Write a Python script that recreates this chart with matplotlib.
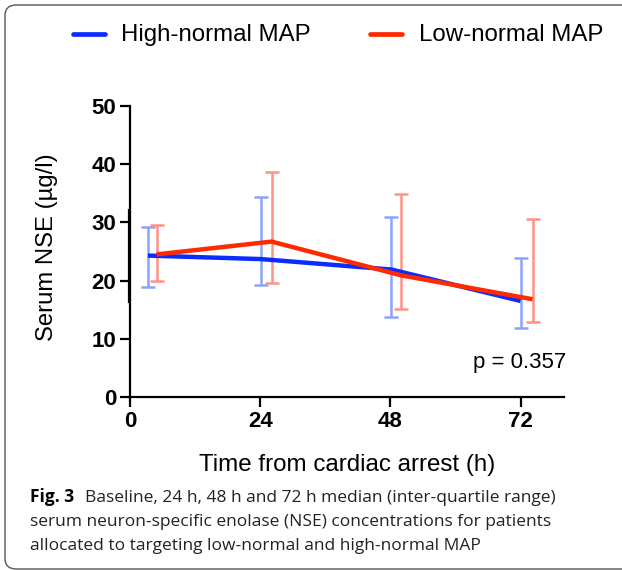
import matplotlib
matplotlib.use("Agg")
import matplotlib.pyplot as plt
from matplotlib.patches import FancyBboxPatch
from matplotlib.lines import Line2D

# ---- data ----
hi_time = [3.3, 24.1, 48.2, 72.0]
hi_median = [24.3, 23.7, 21.9, 16.5]
hi_q1 = [18.9, 19.2, 13.7, 11.9]
hi_q3 = [29.2, 34.3, 30.9, 23.8]

lo_time = [4.9, 26.1, 50.0, 74.2]
lo_median = [24.5, 26.7, 20.9, 16.8]
lo_q1 = [20.0, 19.6, 15.2, 12.9]
lo_q3 = [29.6, 38.6, 34.9, 30.5]

x_ticks = [0, 24, 48, 72]
y_ticks = [0, 10, 20, 30, 40, 50]
series_labels = ["High-normal MAP", "Low-normal MAP"]
p_text = "p = 0.357"
x_label = "Time from cardiac arrest (h)"
y_label = "Serum NSE (\u00b5g/l)"

BLUE = "#0a2cff"
RED = "#ff2a00"
BLUE_L = "#8ca2ff"
RED_L = "#ff9284"

W, H = 622, 570
fig = plt.figure(figsize=(W / 100, H / 100), dpi=100)
plt.rcParams['font.family'] = ['Liberation Sans', 'DejaVu Sans']

ax = fig.add_axes([130 / W, 1 - 397 / H, (564 - 130) / W, (397 - 106) / H])

# error bars
for t, m, q1, q3, c in [(hi_time, hi_median, hi_q1, hi_q3, BLUE_L),
                        (lo_time, lo_median, lo_q1, lo_q3, RED_L)]:
    yerr = [[mm - a for mm, a in zip(m, q1)], [b - mm for mm, b in zip(m, q3)]]
    ax.errorbar(t, m, yerr=yerr, fmt='none', ecolor=c, elinewidth=1.8,
                capsize=5, capthick=1.8, zorder=2, clip_on=False)

ax.plot(hi_time, hi_median, color=BLUE, lw=3.2, zorder=3, solid_capstyle='butt')
ax.plot(lo_time, lo_median, color=RED, lw=3.2, zorder=4, solid_capstyle='butt')

ax.set_xlim(0, 80)
ax.set_ylim(0, 50)
ax.set_xticks(x_ticks)
ax.set_yticks(y_ticks)
ax.set_xticklabels([str(v) for v in x_ticks], fontsize=16, fontweight='bold')
ax.set_yticklabels([str(v) for v in y_ticks], fontsize=16, fontweight='bold')
ax.tick_params(axis='both', direction='out', length=7, width=1.6, pad=3, color='black')
for s in ['top', 'right']:
    ax.spines[s].set_visible(False)
for s in ['left', 'bottom']:
    ax.spines[s].set_linewidth(1.6)

# small extra thick segment on y axis
ax.plot([-0.25, -0.25], [16.3, 32.1], color='black', lw=1.6, clip_on=False, zorder=5)

ax.set_xlabel(x_label, fontsize=17.4)
ax.set_ylabel(y_label, fontsize=17.2)
ax.yaxis.set_label_coords(-0.166, 0.515)
ax.xaxis.set_label_coords(0.5, -0.195)

ax.text(80.4, 4.9, p_text, fontsize=16, ha='right', va='baseline')

# legend (manual, figure pixel positions)
def fx(px):
    return px / W

def fy(py):
    return 1 - py / H

fig.add_artist(Line2D([fx(73), fx(105)], [fy(34), fy(34)], color=BLUE, lw=3.4,
                      solid_capstyle='round'))
fig.text(fx(121), fy(35), series_labels[0], fontsize=17.3, va='center', ha='left')
fig.add_artist(Line2D([fx(370), fx(402)], [fy(34), fy(34)], color=RED, lw=3.4,
                      solid_capstyle='round'))
fig.text(fx(419), fy(35), series_labels[1], fontsize=17.3, va='center', ha='left')

# rounded border
box = FancyBboxPatch((fx(5), fy(569)), fx(700), fy(5) - fy(569),
                     boxstyle="round,pad=0,rounding_size=0.018",
                     transform=fig.transFigure, fill=False, edgecolor='#555555',
                     lw=1.0, clip_on=False)
fig.add_artist(box)

# caption
cap_fam = ['Open Sans', 'DejaVu Sans']
fig.text(fx(30), fy(502), "Fig. 3", fontsize=12.5, fontweight='bold', family=cap_fam,
         va='baseline', ha='left')
fig.text(fx(85), fy(502), "Baseline, 24 h, 48 h and 72 h median (inter-quartile range)",
         fontsize=12.5, family=cap_fam, va='baseline', ha='left', color='#222222')
fig.text(fx(30), fy(526), "serum neuron-specific enolase (NSE) concentrations for patients",
         fontsize=12.5, family=cap_fam, va='baseline', ha='left', color='#222222')
fig.text(fx(30), fy(550), "allocated to targeting low-normal and high-normal MAP",
         fontsize=12.5, family=cap_fam, va='baseline', ha='left', color='#222222')

fig.savefig("out.png", dpi=100)
